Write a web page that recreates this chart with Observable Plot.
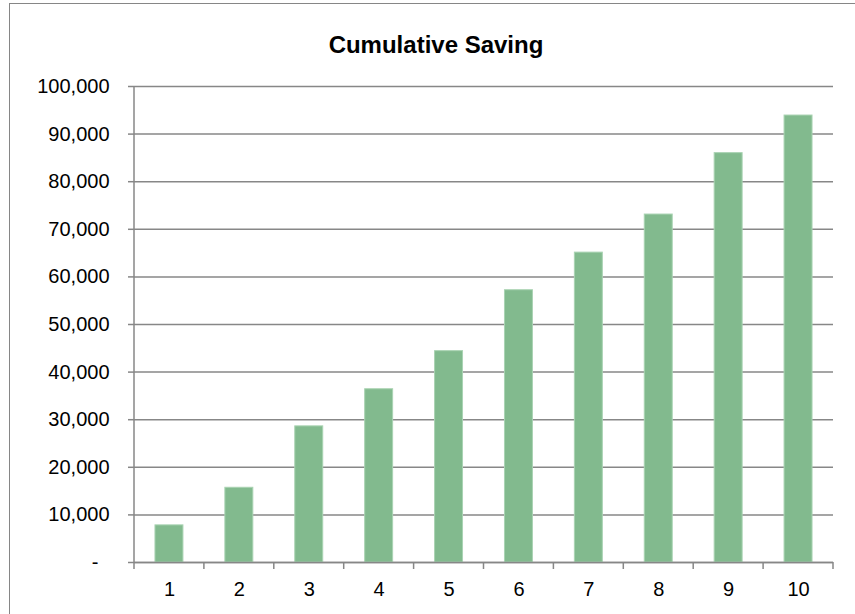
<!DOCTYPE html>
<html>
<head>
<meta charset="utf-8">
<script src="https://cdn.jsdelivr.net/npm/d3@7"></script>
<script src="https://cdn.jsdelivr.net/npm/@observablehq/plot@0.6"></script>
<style>
  html, body { margin: 0; padding: 0; background: #fff; overflow: hidden; }
  #wrap { position: relative; width: 855px; height: 614px; overflow: hidden; font-family: "Liberation Sans", Arial, sans-serif; }
  #border { position: absolute; left: 9px; top: 3px; width: 870px; height: 640px; border: 1.5px solid #868686; box-sizing: border-box; }
  #title { position: absolute; left: 10px; width: 852px; top: 31px; line-height: 28px; text-align: center; font-size: 24px; font-weight: bold; color: #000; }
  #chart { position: absolute; left: 0; top: 60px; }
</style>
</head>
<body>
<div id="wrap">
  <div id="border"></div>
  <div id="title">Cumulative Saving</div>
  <div id="chart"></div>
</div>
<script>
const categories = ["1", "2", "3", "4", "5", "6", "7", "8", "9", "10"];
const savings = [7800, 15700, 28600, 36400, 44400, 57200, 65100, 73100, 86000, 93900];
const yTicks = [0, 10000, 20000, 30000, 40000, 50000, 60000, 70000, 80000, 90000, 100000];

const data = categories.map((c, i) => ({year: c, value: savings[i]}));
const gray = "#878787";
const fmt = d3.format(",");

function axisLines(index, scales, values, dims) {
  const {width, height, marginLeft, marginRight, marginTop, marginBottom} = dims;
  const bottom = height - marginBottom;
  const g = d3.create("svg:g").attr("stroke", gray).attr("stroke-width", 1.5).attr("fill", "none");
  g.append("line").attr("x1", marginLeft).attr("x2", marginLeft).attr("y1", marginTop).attr("y2", bottom);
  const step = (width - marginLeft - marginRight) / categories.length;
  for (let i = 0; i <= categories.length; i++) {
    const x = marginLeft + i * step;
    g.append("line").attr("x1", x).attr("x2", x).attr("y1", bottom).attr("y2", bottom + 7);
  }
  return g.node();
}

const chart = Plot.plot({
  width: 855,
  height: 554,
  marginLeft: 134,
  marginRight: 22,
  marginTop: 26,
  marginBottom: 52,
  style: {fontFamily: "'Liberation Sans', Arial, sans-serif", fontSize: "20px", color: "#000", background: "transparent"},
  x: {domain: categories, paddingInner: 0.6, paddingOuter: 0.3, round: false, label: null},
  y: {domain: [0, 100000], label: null},
  marks: [
    Plot.gridY(yTicks, {stroke: gray, strokeOpacity: 1, strokeWidth: 1.5}),
    Plot.barY(data, {x: "year", y: "value", fill: "#82BA8E", stroke: "#A9D3B2", strokeWidth: 1}),
    Plot.ruleY([0], {stroke: gray, strokeWidth: 1.5}),
    axisLines,
    Plot.axisY(yTicks, {tickSize: 6, tickPadding: 19, stroke: gray, strokeWidth: 1.5, fill: "#000", fontSize: 20,
      tickFormat: d => d === 0 ? "-\u00a0\u00a0" : fmt(d), label: null}),
    Plot.axisX({tickSize: 0, tickPadding: 19, fill: "#000", fontSize: 20, label: null})
  ]
});
document.getElementById("chart").appendChild(chart);
</script>
</body>
</html>
